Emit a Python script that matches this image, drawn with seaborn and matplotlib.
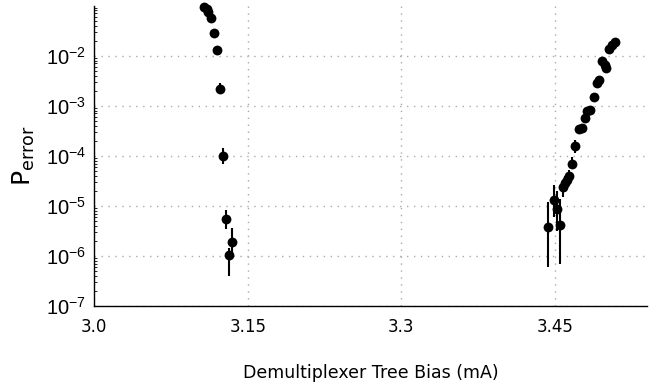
import numpy as np
import pandas as pd
import matplotlib
matplotlib.use("Agg")
import matplotlib.pyplot as plt
import matplotlib.ticker as mticker
import seaborn as sns

# Demultiplexer tree bias (mA) and measured error probability
bias = [3.1073, 3.1100, 3.1115, 3.1138, 3.1167, 3.1197, 3.1226, 3.1256,
        3.1288, 3.1318, 3.1344,
        3.4430, 3.4490, 3.4516, 3.4555, 3.4577, 3.4600, 3.4620, 3.4640,
        3.4670, 3.4700, 3.4734, 3.4767, 3.4790, 3.4816, 3.4841, 3.4880,
        3.4907, 3.4936, 3.4962, 3.4985, 3.5004, 3.5027, 3.5060, 3.5090]
p_error = [0.092, 0.084, 0.074, 0.056, 0.029, 0.013, 2.2e-3, 1.0e-4,
           5.5e-6, 1.05e-6, 1.9e-6,
           3.7e-6, 1.3e-5, 8.6e-6, 4.2e-6, 2.4e-5, 2.9e-5, 3.3e-5, 4.0e-5,
           6.9e-5, 1.6e-4, 3.4e-4, 3.6e-4, 5.8e-4, 7.7e-4, 8.3e-4, 1.5e-3,
           2.8e-3, 3.3e-3, 7.7e-3, 6.6e-3, 5.8e-3, 1.35e-2, 1.6e-2, 1.85e-2]
err_low = [0.004, 0.004, 0.004, 0.003, 0.002, 0.001, 0.5e-3, 0.3e-4,
           2.0e-6, 6.6e-7, 0.8e-6,
           3.1e-6, 0.69e-5, 5.5e-6, 3.5e-6, 0.9e-5, 1.0e-5, 1.0e-5, 1.1e-5,
           1.5e-5, 0.45e-4, 0.5e-4, 0.5e-4, 0.6e-4, 0.8e-4, 0.8e-4, 1.5e-4,
           2.5e-4, 2.5e-4, 5e-4, 5e-4, 5e-4, 1e-3, 1e-3, 1e-3]
err_high = [0.004, 0.004, 0.004, 0.003, 0.002, 0.001, 0.6e-3, 0.4e-4,
            2.8e-6, 4.0e-7, 1.7e-6,
            8.3e-6, 1.3e-5, 1.16e-5, 9.5e-6, 0.9e-5, 1.0e-5, 1.0e-5, 1.1e-5,
            2.5e-5, 0.5e-4, 0.5e-4, 0.5e-4, 0.6e-4, 0.8e-4, 0.8e-4, 1.5e-4,
            2.5e-4, 2.5e-4, 5e-4, 5e-4, 5e-4, 1e-3, 1e-3, 1e-3]

x_ticks = [3.0, 3.15, 3.3, 3.45]
x_tick_labels = ["3.0", "3.15", "3.3", "3.45"]

df = pd.DataFrame({"bias": bias, "p_error": p_error})

sns.set_style("white")
plt.rcParams["font.family"] = ["DejaVu Sans"]
plt.rcParams["text.color"] = "black"
plt.rcParams["axes.labelcolor"] = "black"
plt.rcParams["xtick.labelcolor"] = "black"
plt.rcParams["ytick.labelcolor"] = "black"

fig = plt.figure(figsize=(6.62, 3.89), dpi=100)
ax = fig.add_axes([0.1425, 0.2134, 0.8348, 0.7722])

ax.errorbar(bias, p_error, yerr=[err_low, err_high], fmt="none",
            ecolor="black", elinewidth=1.5, capsize=0, zorder=2, clip_on=False)
sns.scatterplot(data=df, x="bias", y="p_error", color="black",
                edgecolor="black", s=50, linewidth=0, ax=ax, zorder=3,
                clip_on=False)

ax.set_yscale("log")
ax.set_ylim(1e-7, 1e-1)
ax.set_xlim(3.0, 3.54)

ax.xaxis.set_major_locator(mticker.FixedLocator(x_ticks))
ax.set_xticklabels(x_tick_labels)
ax.yaxis.set_minor_locator(mticker.LogLocator(base=10, subs=np.arange(2, 10),
                                              numticks=20))
ax.yaxis.set_minor_formatter(mticker.NullFormatter())
ax.set_yticks([1e-7, 1e-6, 1e-5, 1e-4, 1e-3, 1e-2])

for side in ("top", "right"):
    ax.spines[side].set_visible(False)
for side in ("left", "bottom"):
    ax.spines[side].set_color("black")
    ax.spines[side].set_linewidth(1.0)

ax.tick_params(axis="x", which="major", direction="in", length=4, width=0.6,
               color="#555555", labelsize=12, pad=9)
ax.tick_params(axis="y", which="major", direction="in", length=4.5, width=0.8,
               color="black", labelsize=14.5, pad=6,
               labelfontfamily="Liberation Sans")
ax.tick_params(axis="y", which="minor", direction="in", length=2.3, width=0.6,
               color="black", left=True)

ax.grid(True, which="major", linestyle=(0, (1, 4)), color="#aaaaaa",
        linewidth=1.0)
ax.set_axisbelow(True)

ax.set_xlabel("Demultiplexer Tree Bias (mA)", fontsize=12.5, labelpad=20)
ax.set_ylabel(r"$\mathrm{P_{error}}$", fontsize=18, labelpad=6,
              fontfamily="Liberation Sans")

fig.savefig("out.png", dpi=100)
